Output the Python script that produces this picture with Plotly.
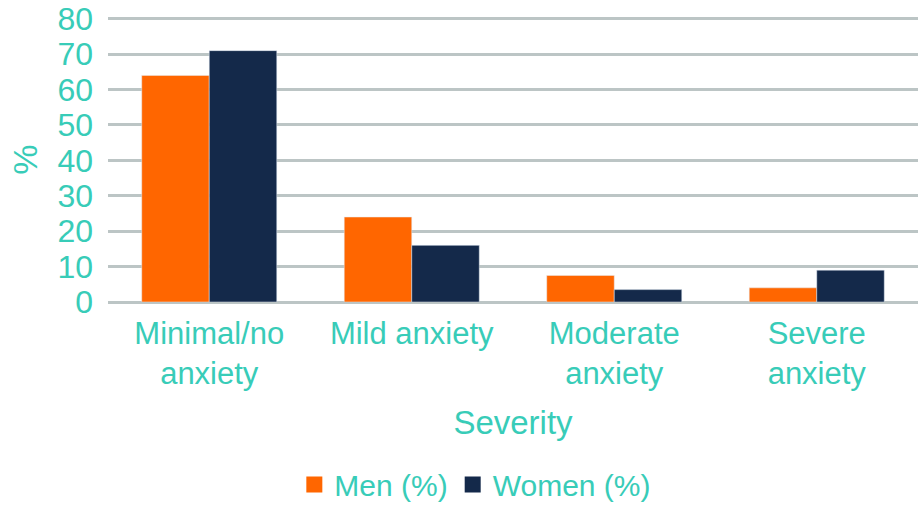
import plotly.graph_objects as go

categories = ["Minimal/no<br>anxiety", "Mild anxiety", "Moderate<br>anxiety", "Severe<br>anxiety"]
men = [64, 24, 7.5, 4]
women = [71, 16, 3.5, 9]
y_ticks = [0, 10, 20, 30, 40, 50, 60, 70, 80]
series_names = ["Men (%)", "Women (%)"]
series_colors = ["#FF6600", "#14294A"]

teal = "#38CCB8"
grid = "#BCC5C5"
font_family = "Liberation Sans, Arial, sans-serif"

fig = go.Figure()
for name, vals, col in zip(series_names, [men, women], series_colors):
    fig.add_trace(go.Bar(name=name, x=categories, y=vals, marker_color=col,
                         showlegend=False))
# legend-only entries with larger square swatches
for name, col in zip(series_names, series_colors):
    fig.add_trace(go.Scatter(name=name, x=[None], y=[None], mode="markers",
                             marker=dict(symbol="square", size=22, color=col),
                             showlegend=True))

fig.update_layout(
    width=918, height=508,
    margin=dict(l=108, r=0, t=17, b=206, autoexpand=False),
    paper_bgcolor="white", plot_bgcolor="white",
    barmode="group", bargap=0.333, bargroupgap=0,
    font=dict(family=font_family, color=teal, size=30),
    showlegend=True,
    legend=dict(orientation="h", x=0.4535, xanchor="center", y=-0.640, yanchor="middle",
                font=dict(size=30, color=teal), itemwidth=30, traceorder="normal",
                itemsizing="trace", tracegroupgap=0, borderwidth=0),
)
fig.update_xaxes(
    showgrid=False, showline=False, ticks="", automargin=False,
    tickfont=dict(size=31, color=teal), ticklabelstandoff=10,
    title=dict(text="Severity", font=dict(size=33, color=teal), standoff=20),
)
fig.update_yaxes(
    range=[0, 80.5], tickvals=y_ticks, showgrid=True, gridcolor=grid, gridwidth=2.5,
    zeroline=True, zerolinecolor=grid, zerolinewidth=2.5, automargin=False,
    tickfont=dict(size=32, color=teal), ticks="", ticklabelstandoff=14,
    title=dict(text="%", font=dict(size=34, color=teal), standoff=9),
)

fig.write_html("out.html", config={"displayModeBar": False},
               post_script="document.body.style.margin='0';document.body.style.overflow='hidden';")
